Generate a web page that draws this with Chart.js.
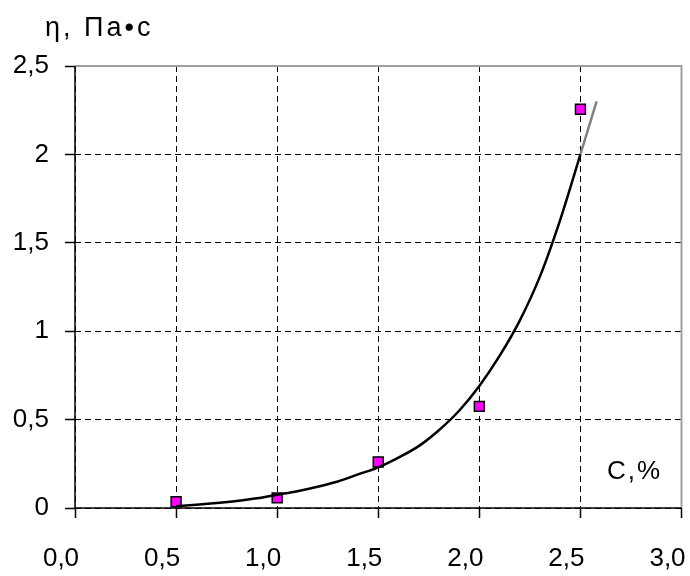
<!DOCTYPE html>
<html>
<head>
<meta charset="utf-8">
<script src="https://cdn.jsdelivr.net/npm/chart.js@4"></script>
<style>
  html, body { margin: 0; padding: 0; background: #fff; }
  #wrap { width: 690px; height: 576px; }
</style>
</head>
<body>
<div id="wrap"><canvas id="chart" width="690" height="576"></canvas></div>
<script>
// measured points
const concX = [0.5, 1.0, 1.5, 2.0, 2.5];
const viscY = [0.035, 0.057, 0.26, 0.575, 2.255];

// trend curve
const trendX = [0.5, 0.6, 0.7, 0.8, 0.9, 1.0, 1.1, 1.2, 1.3, 1.4, 1.5, 1.6, 1.7, 1.8, 1.9, 2.0, 2.1, 2.2, 2.3, 2.4, 2.5, 2.58];
const trendY = [0.01, 0.018, 0.028, 0.04, 0.055, 0.075, 0.095, 0.12, 0.15, 0.19, 0.23, 0.285, 0.35, 0.44, 0.55, 0.69, 0.86, 1.06, 1.31, 1.63, 2.0, 2.3];

// tick labels
const xTickLabels = ['0,0', '0,5', '1,0', '1,5', '2,0', '2,5', '3,0'];
const yTickLabels = ['0', '0,5', '1', '1,5', '2', '2,5'];

const yTitle = 'η, Па•с';
const xTitle = 'С,%';

const tickFont = { family: 'Liberation Sans', size: 26 };

// frame, axis lines and captions
const extras = {
    id: 'extras',
    afterDatasetsDraw(chart) {
        const { ctx, chartArea: a } = chart;
        ctx.save();
        ctx.strokeStyle = '#a0a0a0';
        ctx.lineWidth = 2;
        ctx.beginPath();
        ctx.moveTo(a.left, a.top);
        ctx.lineTo(a.right, a.top);
        ctx.lineTo(a.right, a.bottom);
        ctx.stroke();

        ctx.strokeStyle = '#000';
        ctx.lineWidth = 1.5;
        ctx.beginPath();
        ctx.moveTo(a.left, a.top);
        ctx.lineTo(a.left, a.bottom);
        ctx.lineTo(a.right, a.bottom);
        ctx.stroke();
        ctx.restore();
    },
    afterDraw(chart) {
        const { ctx } = chart;
        ctx.save();
        ctx.fillStyle = '#000';
        ctx.textBaseline = 'alphabetic';
        ctx.font = '27px "Liberation Sans"';
        ctx.letterSpacing = '3px';
        ctx.fillText(yTitle, 45, 36);
        ctx.font = '26px "Liberation Sans"';
        ctx.letterSpacing = '2px';
        ctx.fillText(xTitle, 607, 479);
        ctx.letterSpacing = '0px';
        ctx.restore();
    }
};

const gridOpts = {
    color: '#000',
    lineWidth: 1,
    tickLength: 10,
    tickColor: '#000',
    tickWidth: 1.5
};
const borderOpts = { display: false, dash: [6, 4] };

new Chart(document.getElementById('chart'), {
    type: 'scatter',
    data: {
        datasets: [
            {
                label: 'trend',
                type: 'line',
                data: trendX.map((x, i) => ({ x: x, y: trendY[i] })),
                borderColor: '#000',
                borderWidth: 2.5,
                pointRadius: 0,
                fill: false,
                cubicInterpolationMode: 'monotone',
                segment: {
                    borderColor: ctx => ctx.p0DataIndex >= trendX.length - 2 ? '#808080' : '#000'
                }
            },
            {
                label: 'data',
                data: concX.map((x, i) => ({ x: x, y: viscY[i] })),
                pointStyle: 'rect',
                pointRadius: 7,
                backgroundColor: '#ff00ff',
                borderColor: '#000',
                borderWidth: 1.5
            }
        ]
    },
    options: {
        responsive: false,
        animation: false,
        layout: { padding: { top: 66, right: 7, left: 0, bottom: 0 } },
        plugins: {
            legend: { display: false },
            tooltip: { enabled: false }
        },
        scales: {
            x: {
                type: 'linear',
                min: 0,
                max: 3,
                ticks: {
                    stepSize: 0.5,
                    color: '#000',
                    font: tickFont,
                    padding: 25,
                    labelOffset: -14,
                    maxRotation: 0,
                    callback: (v, i) => xTickLabels[i]
                },
                grid: gridOpts,
                border: borderOpts,
                afterFit: s => {
                    s.height = 68;
                    s.paddingLeft = 0;
                    s.paddingRight = 0;
                }
            },
            y: {
                min: 0,
                max: 2.5,
                ticks: {
                    stepSize: 0.5,
                    color: '#000',
                    font: tickFont,
                    padding: 16,
                    callback: (v, i) => yTickLabels[i]
                },
                grid: gridOpts,
                border: borderOpts,
                afterFit: s => {
                    s.width = 75;
                    s.paddingTop = 0;
                    s.paddingBottom = 0;
                }
            }
        }
    },
    plugins: [extras]
});
</script>
</body>
</html>
